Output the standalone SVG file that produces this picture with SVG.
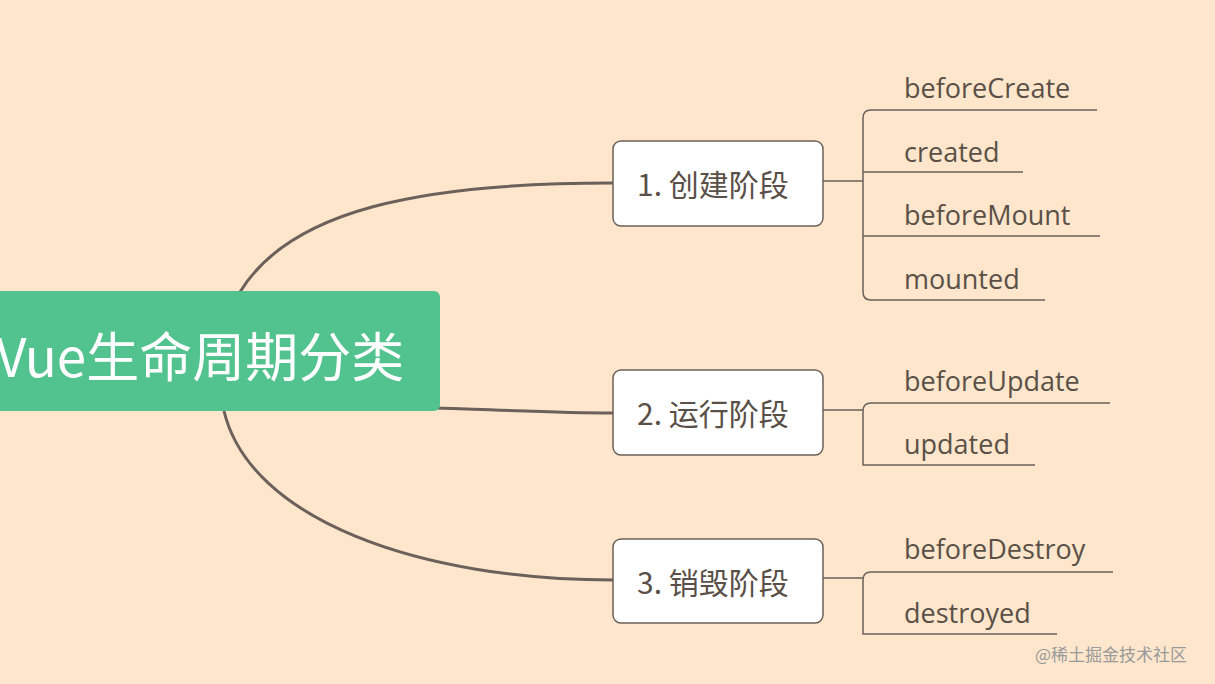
<svg xmlns="http://www.w3.org/2000/svg" width="1215" height="684" viewBox="0 0 1215 684">
<style>
.box{fill:#fff;stroke:#6b605a;stroke-width:1.5}
.st{font-family:"Noto Sans CJK SC","Noto Sans",sans-serif;font-size:30px;fill:#5a5047}
.lf{font-family:"Open Sans","Noto Sans",sans-serif;font-size:27px;fill:#5a5047}
.ln{fill:none;stroke:#6b605a;stroke-width:1.5}
.cv{fill:none;stroke:#6b605a;stroke-width:3}
</style>
<rect width="1215" height="684" fill="#fde6cc"/>
<g id="connectors">
<path class="cv" d="M240,292 C290,210 420,183 613,183"/>
<path class="cv" d="M438,408 C500,410 560,413 613,413"/>
<path class="cv" d="M224,411 C250,520 420,580 613,580"/>
<path class="ln" d="M823,181 H863 M871,110 H1097 M871,110 Q863,110 863,118 V292 Q863,300 871,300 H1045 M863,172 H1023 M863,236 H1100"/>
<path class="ln" d="M823,410 H863 M871,403 H1110 M871,403 Q863,403 863,411 V465 H1035"/>
<path class="ln" d="M823,578 H863 M871,572 H1113 M871,572 Q863,572 863,580 V634 H1057"/>
</g>
<g id="root">
<rect x="-20" y="291" width="460" height="120" rx="6" fill="#52c28e"/>
<text x="-4" y="377" font-family="Noto Sans CJK SC,Noto Sans,sans-serif" font-size="53" fill="#fff">Vue生命周期分类</text>
</g>
<g id="stage1"><rect class="box" x="613" y="141" width="210" height="85" rx="8"/><text class="st" x="637" y="196">1. 创建阶段</text></g>
<g id="stage2"><rect class="box" x="613" y="370" width="210" height="85" rx="8"/><text class="st" x="637" y="425">2. 运行阶段</text></g>
<g id="stage3"><rect class="box" x="613" y="539" width="210" height="84" rx="8"/><text class="st" x="637" y="594">3. 销毁阶段</text></g>
<g id="leaves">
<text class="lf" x="904" y="98">beforeCreate</text>
<text class="lf" x="904" y="162">created</text>
<text class="lf" x="904" y="225">beforeMount</text>
<text class="lf" x="904" y="289">mounted</text>
<text class="lf" x="904" y="391">beforeUpdate</text>
<text class="lf" x="904" y="454">updated</text>
<text class="lf" x="904" y="559">beforeDestroy</text>
<text class="lf" x="904" y="623">destroyed</text>
</g>
<text x="1035" y="661" font-family="Noto Sans CJK SC,sans-serif" font-size="17" fill="#9a9a9a">@稀土掘金技术社区</text>
</svg>
